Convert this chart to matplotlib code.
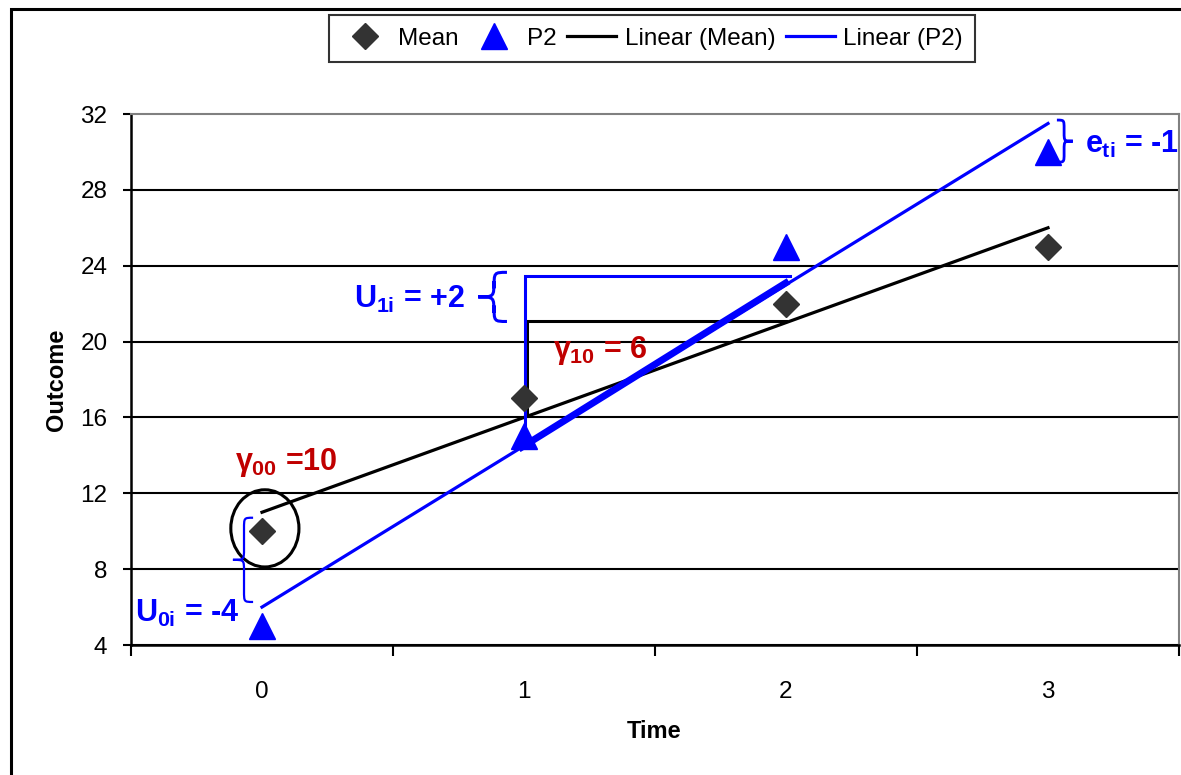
import matplotlib
matplotlib.use('Agg')
import matplotlib.pyplot as plt
import numpy as np
from matplotlib.path import Path
from matplotlib.patches import PathPatch, Ellipse, Rectangle

plt.rcParams['font.family'] = ['Liberation Sans', 'DejaVu Sans']
plt.rcParams['mathtext.fontset'] = 'custom'
plt.rcParams['mathtext.rm'] = 'Liberation Sans:bold'
plt.rcParams['mathtext.it'] = 'Liberation Sans:bold'
plt.rcParams['mathtext.bf'] = 'Liberation Sans:bold'
plt.rcParams['mathtext.sf'] = 'Liberation Sans:bold'

# ---- data ----
time = [0, 1, 2, 3]
x_labels = ['0', '1', '2', '3']
mean_vals = [10, 17, 22, 25]
p2_vals = [5, 15, 25, 30]
y_ticks = [4, 8, 12, 16, 20, 24, 28, 32]

BLUE = '#0000FF'
RED = '#C00000'
GREY = '#333333'

fig = plt.figure(figsize=(11.81, 7.75), dpi=100)
ax = fig.add_axes([131 / 1181, 1 - 645 / 775, (1179 - 131) / 1181, (645 - 114) / 775])
ax.set_xlim(-0.5, 3.5)
ax.set_ylim(4, 32)

# trendlines
bm = np.polyfit(time, mean_vals, 1)
bp = np.polyfit(time, p2_vals, 1)
xs = np.array([time[0], time[-1]], dtype=float)
ln_m, = ax.plot(xs, np.polyval(bm, xs), color='black', lw=2.3, label='Linear (Mean)', zorder=3)
ln_p, = ax.plot(xs, np.polyval(bp, xs), color=BLUE, lw=2.3, label='Linear (P2)', zorder=3)
mk_m, = ax.plot(time, mean_vals, ls='none', marker='D', ms=13, color=GREY, label='Mean', zorder=5)
mk_p, = ax.plot(time, p2_vals, ls='none', marker='^', ms=18.5, color=BLUE, label='P2', zorder=5)

# axes styling
ax.set_xticks(time, x_labels)
ax.set_xticks(np.arange(-0.5, 3.6, 1.0), minor=True)
ax.tick_params(axis='x', which='major', length=0, pad=26, labelsize=17.5)
ax.tick_params(axis='x', which='minor', length=8, width=1.5, direction='out', color='black')
ax.set_yticks(y_ticks)
ax.tick_params(axis='y', length=6, width=1.5, pad=11, labelsize=17.5, direction='out')
for s in ['left', 'bottom']:
    ax.spines[s].set_color('black')
    ax.spines[s].set_linewidth(1.8)
for s in ['top', 'right']:
    ax.spines[s].set_color('#808080')
    ax.spines[s].set_linewidth(1.5)
ax.yaxis.grid(True, color='black', lw=1.5)
ax.set_axisbelow(True)
ax.yaxis.get_gridlines()[-1].set_visible(False)

ax.set_xlabel('Time', fontsize=17, fontweight='bold')
ax.xaxis.label.set_va('center')
ax.xaxis.set_label_coords(0.499, -0.162)
ax.set_ylabel('Outcome', fontsize=17, fontweight='bold')
ax.yaxis.label.set_va('center')
ax.yaxis.set_label_coords((57 - 131) / 1048, 0.5)

# step (slope) annotations derived from the fits
xb = 1.012
ax.plot([xb, xb, 2.0], [np.polyval(bm, xb), np.polyval(bm, 2) + 0.1, np.polyval(bm, 2) + 0.1],
        color='black', lw=2.2, zorder=4, solid_joinstyle='miter')
ax.plot([1.003, 1.003, 2.015], [np.polyval(bp, 1), np.polyval(bp, 2) + 0.45, np.polyval(bp, 2) + 0.45],
        color=BLUE, lw=2.2, zorder=4, solid_joinstyle='miter')
ax.plot([0.98, 2.01], [np.polyval(bp, 0.98), np.polyval(bp, 2.01) + 0.1], color=BLUE, lw=5, zorder=4,
        solid_capstyle='butt')

# ellipse round the intercept
ax.add_patch(Ellipse((0.011, 10.15), 0.26, 4.07, fill=False, ec='black', lw=2.2, zorder=6))


def brace(xe, xt, yt, yb, lw):
    p0 = ax.transData.transform((0, 0))
    p1 = ax.transData.transform((1, 1))
    ratio = (p1[0] - p0[0]) / (p1[1] - p0[1])
    ym = (yt + yb) / 2
    xm = xe + (xt - xe) * 0.45
    dy = abs(xe - xt) * 0.55 * ratio
    verts = [(xe, yt), (xm, yt), (xm, yt), (xm, yt - dy), (xm, ym + dy),
             (xm, ym), (xm, ym), (xt, ym), (xm, ym), (xm, ym), (xm, ym - dy),
             (xm, yb + dy), (xm, yb), (xm, yb), (xe, yb)]
    C, L, M = Path.CURVE4, Path.LINETO, Path.MOVETO
    codes = [M, C, C, C, L, C, C, C, C, C, C, L, C, C, C]
    ax.add_patch(PathPatch(Path(verts, codes), fill=False, ec=BLUE, lw=lw, zorder=6, clip_on=False))


brace(0.935, 0.825, 23.65, 21.06, 2.2)
brace(-0.034, -0.111, 10.71, 6.27, 1.6)
brace(3.034, 3.095, 31.68, 29.46, 2.0)

tk = dict(fontsize=22, fontweight='bold', va='baseline', zorder=7)
ax.text(0.775, 21.8, r'$U_{1i}$ = +2', color=BLUE, ha='right', **tk)
ax.text(-0.485, 5.21, r'$U_{0i}$ = -4', color=BLUE, ha='left', **tk)
ax.text(-0.103, 13.24, r'$\gamma_{00}$ =10', color=RED, ha='left', **tk)
ax.text(1.111, 19.16, r'$\gamma_{10}$ = 6', color=RED, ha='left', **tk)
ax.text(3.141, 29.94, r'$e_{ti}$ = -1', color=BLUE, ha='left', **tk)

# legend
leg = fig.legend(handles=[mk_m, mk_p, ln_m, ln_p], loc='center',
                 bbox_to_anchor=(652 / 1181, 1 - 38.5 / 775), ncol=4, fontsize=17.5,
                 numpoints=1, frameon=True, fancybox=False, handlelength=2.0,
                 handletextpad=0.35, columnspacing=0.45, borderpad=0.5, borderaxespad=0)
leg.get_frame().set_edgecolor('black')
leg.get_frame().set_linewidth(1.5)

# figure border
fig.add_artist(Rectangle((11 / 1181, -0.05), 1.1, (1 - 9 / 775) + 0.05, transform=fig.transFigure,
                         fill=False, ec='black', lw=2.2))

fig.savefig('out.png', dpi=100)
